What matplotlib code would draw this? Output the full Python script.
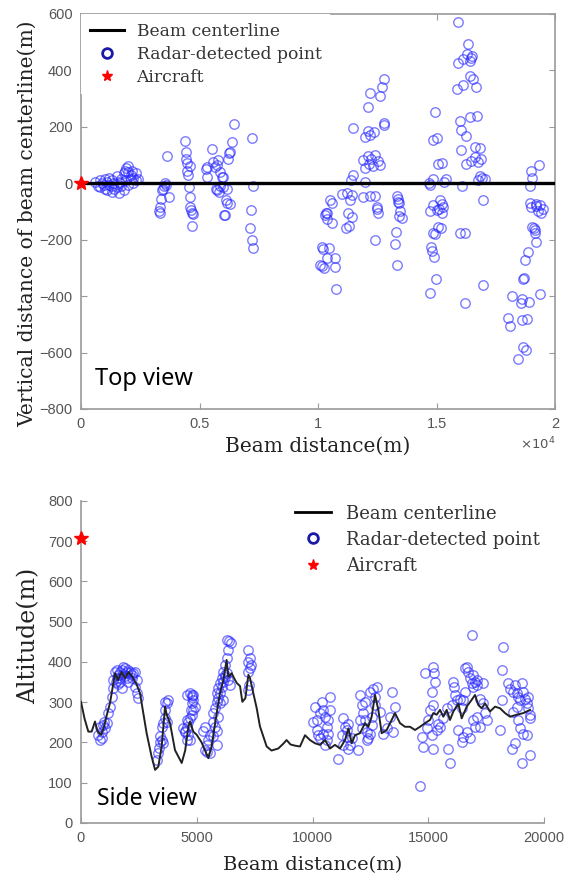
import matplotlib
matplotlib.use("Agg")
import matplotlib.pyplot as plt
from matplotlib.lines import Line2D

# ---------------- data ----------------
legend_labels = ["Beam centerline", "Radar-detected point", "Aircraft"]

# Top view
top_beam_x = [0, 20000]
top_beam_y = [0, 0]
top_aircraft_x = [0]
top_aircraft_y = [0]
top_pts_x = [
    600, 700, 800, 900, 1000, 1000, 1100, 1200, 1200, 1300, 1300, 1400, 1500, 1500, 1600, 1600,
    1700, 1700, 1800, 1800, 1900, 1900, 2000, 2000, 2100, 2100, 2200, 2200, 2300, 2300, 2400,
    1100, 1400, 800, 2000, 1850, 950, 1250, 1650, 2150,
    3620, 3550, 3500, 3450, 3600, 3380, 3700, 3330, 3300, 3320, 3430,
    4400, 4430, 4450, 4460, 4480, 4520, 4560, 4580, 4620, 4650, 4680, 4720, 4700, 4600,
    5274, 5330, 5513, 5580, 5654, 5724, 5795, 5865, 5935, 6006, 5696, 5752, 5865, 6006, 6146,
    6216, 6258, 6287, 6357, 6456, 6118, 6174, 6287, 6034, 6090, 5302, 5837,
    7200, 7243, 7158, 7130, 7200, 7270,
    10100, 10150, 10260, 10180, 10200, 10460, 10380, 10720, 10700, 10760, 10340, 10600, 10400,
    10506, 10570, 10366, 10296, 11280, 11350, 11420, 11000, 11210, 11490, 11380, 11465,
    11983, 11912, 12190, 12400, 12470, 12000, 12150, 12250, 12400, 12550, 12620, 12100, 12300,
    11900, 11990, 12100, 12200, 12370, 12120, 12194, 12620, 12680, 12790, 12770, 12790,
    13350, 13390, 13420, 12500, 12530, 12400, 13290, 13260, 13320, 13400, 13480, 13550, 13380,
    11180, 11300, 11450,
    14940, 14850, 15020, 15060, 15230, 14730, 14850, 15320, 15400, 14700, 16080, 15150, 15220,
    15280, 16950, 15920, 16340, 15920, 16100, 16300, 16450, 16480, 16400, 15880, 16100, 16420,
    16520, 16660, 16000, 16400, 16700, 16020, 16250, 16020, 16620, 16840, 16250, 16450, 16620,
    16750, 16880, 16750, 16850, 16900, 17050, 14850, 15000, 15100, 15250, 14730, 14860, 14940,
    14780, 14820, 14900, 15070, 15200, 14980, 14730, 15990, 16200, 16200, 16960,
    18950, 19050, 19340, 19000, 18950, 19200, 19370, 19000, 19200, 19300, 19400, 19500,
    19020, 19100, 19150, 19150, 19200, 18860, 18730, 18650, 18680, 18190, 18600, 18560, 18900,
    19370, 18020, 18100, 18600, 18800, 18650, 18770, 18440,
]
top_pts_y = [
    5, -10, 10, 0, -20, 15, 5, -5, 20, -30, 10, 0, 25, -15, 5, -35,
    15, -10, 35, -25, 10, 55, 40, -5, 30, 15, 20, 0, 35, 10, 15,
    -25, -20, -15, 60, 45, -5, -10, 0, 45,
    95, 0, -10, -20, -5, -55, -50, -85, -100, -105, -25,
    150, 110, 85, 72, 45, 30, -15, -50, -85, -95, -105, -110, -152, 60,
    52, 58, 123, 76, 58, 64, 81, 40, 22, 22, -19, -25, -8, -14, -19,
    87, 106, 112, 146, 209, -60, -70, -75, -113, -113, 22, -31,
    162, -11, -96, -158, -202, -228,
    -290, -295, -300, -225, -233, -228, -265, -265, -297, -376, -106, -142, -125,
    -60, -69, -107, -113, -107, -60, -42, -37, -34, 28, 10, 197,
    5, -48, -46, -46, -93, 53, 70, 85, 99, 80, 65, 95, 60,
    81, 163, 187, 170, 180, 270, 320, 311, 340, 368, 205, 212,
    -46, -67, -116, -85, -106, -202, -172, -216, -290, -70, -100, -124, -55,
    -160, -152, -120,
    252, 152, 159, 67, 71, -7, 14, 5, 14, 0, -11, -60, -72,
    -84, -58, 571, 494, 428, 440, 457, 445, 450, 435, 333, 350, 379,
    370, 340, 220, 235, 237, 188, 166, 117, 127, 124, 67, 80, 92,
    75, 85, 11, 25, 18, 15, -78, -95, -90, -106, -100, -177, -180,
    -226, -240, -262, -155, -160, -340, -388, -176, -176, -425, -361,
    -10, 20, 64, 45, -70, -75, -78, -85, -80, -100, -106, -90,
    -155, -160, -166, -177, -208, -243, -272, -340, -335, -400, -410, -425, -420,
    -393, -478, -506, -485, -481, -580, -590, -623,
]

# Side view
side_beam_x = [
    0, 150, 316, 460, 605, 720, 865, 1000, 1100, 1253, 1470, 1600, 1750, 1900, 2050, 2200,
    2400, 2550, 2700, 2835, 3050, 3200, 3340, 3485, 3630, 3700, 3845, 4060, 4350, 4500, 4640,
    4710, 4850, 5000, 5210, 5500, 5640, 5860, 6000, 6150, 6290, 6365, 6510, 6610, 6725, 6870,
    6970, 7100, 7230, 7300, 7445, 7590, 7730, 8020, 8230, 8520, 8740, 8880, 9050, 9250, 9460,
    9676, 9892, 10108, 10324, 10540, 10756, 10972, 11188, 11404, 11548, 11692, 11836, 12052,
    12268, 12412, 12556, 12700, 12844, 12988, 13204, 13420, 13564, 13780, 13996, 14212, 14428,
    14644, 14860, 15076, 15220, 15364, 15508, 15652, 15796, 15940, 16084, 16300, 16444, 16660,
    16876, 17020, 17164, 17308, 17452, 17668, 17884, 18100, 18316, 18532, 18820, 19108, 19396,
]
side_beam_y = [
    301, 260, 227, 227, 252, 227, 219, 240, 265, 298, 372, 355, 375, 360, 375, 365,
    345, 322, 270, 223, 165, 132, 140, 190, 289, 270, 248, 181, 149, 180, 240,
    252, 227, 219, 200, 161, 190, 272, 322, 355, 405, 363, 372, 360, 348, 340,
    301, 310, 368, 360, 322, 285, 240, 190, 180, 185, 197, 206, 195, 192, 190,
    218, 206, 198, 194, 206, 185, 194, 185, 206, 235, 198, 218, 223,
    248, 239, 264, 318, 281, 223, 231, 256, 273, 248, 239, 239, 231,
    239, 248, 256, 273, 269, 281, 264, 281, 256, 277, 297, 260, 289,
    306, 318, 293, 285, 297, 277, 289, 285, 273, 264, 269, 273, 281,
]
side_aircraft_x = [0]
side_aircraft_y = [708]
side_pts_x = [
    749, 821, 893, 964, 1036, 1108, 1180, 1253, 1325, 1397, 1397, 1469, 1541, 1613, 1685, 1757,
    1829, 1901, 1973, 2045, 2117, 2189, 2261, 2333, 2405, 2333, 2405, 2477, 1685, 1757, 1973,
    800, 900, 1000, 1500, 1600, 1700, 1900, 2050, 2200, 1800, 1550,
    3269, 3340, 3383, 3412, 3484, 3556, 3628, 3700, 3700, 3628, 3556, 3772, 3484, 3420, 3650,
    4492, 4564, 4636, 4708, 4780, 4852, 4708, 4564, 4780, 4852, 4780, 4924, 4636, 4420, 4492,
    4780, 4564, 4708, 4852, 4600, 4750,
    5284, 5356, 5356, 5428, 5500, 5572, 5716, 5788, 5860, 5860, 5716, 5788, 5860, 5932, 6004,
    6076, 6148, 6220, 6292, 6364, 6436, 6004, 6148, 5572, 5428, 5932, 5716,
    6292, 6407, 6465, 6364, 6292, 6220, 6148, 6220, 6004, 6076, 5932, 5860,
    7228, 7300, 7228, 7329, 7300, 7228, 7228, 7271,
    10108, 10036, 10180, 10252, 10396, 10468, 10540, 10612, 10684, 10756, 10324, 10468, 10612,
    10684, 10540, 10180, 10324, 10756,
    11116, 11260, 11332, 11404, 11476, 11548, 11620, 11692, 11332, 11548, 11476,
    12052, 11980, 12124, 12196, 12268, 12340, 12412, 12484, 12556, 12484, 12628, 12700, 12772,
    12700, 12268, 12124, 12340, 12052, 12556,
    12916, 13060, 13204, 13348, 13420, 13492, 13564,
    14716, 14788, 14860, 14932, 15004, 15076, 15148, 15191, 15220, 15249, 15292, 15220, 15148,
    15364, 15436, 15508, 15652, 15796, 15868, 15940, 16012, 16084, 16113, 16156, 16228, 16300,
    16372, 16444, 16516, 16588, 16660, 16732, 16804, 16876, 16948, 17020, 16876, 16516, 16660,
    16804, 16948, 17020, 17092, 16444, 14644, 16588, 16948, 17092,
    17236, 17380, 17452, 17524, 17236, 17092, 17380,
    18172, 18244, 18172, 18100, 18460, 18532, 18676, 18748, 18820, 18892, 18964, 19036, 19108,
    19180, 19252, 19324, 19396, 19252, 18964, 19108, 18892, 18676, 18604, 18748, 19036, 19396,
    18820, 19324, 19396,
]
side_pts_y = [
    218, 239, 226, 243, 235, 248, 272, 289, 314, 335, 355, 376, 380, 368, 376, 380,
    388, 384, 376, 380, 376, 368, 372, 376, 355, 338, 322, 310, 351, 335, 359,
    205, 210, 250, 350, 345, 360, 365, 350, 360, 370, 360,
    157, 173, 186, 202, 206, 198, 301, 297, 252, 260, 248, 306, 239, 215, 280,
    229, 239, 252, 260, 268, 281, 206, 206, 314, 318, 297, 289, 219, 235, 226,
    318, 318, 322, 306, 255, 280,
    229, 239, 181, 194, 206, 219, 215, 239, 194, 229, 272, 285, 301, 310, 322,
    339, 351, 363, 372, 355, 343, 297, 306, 173, 177, 264, 252,
    455, 451, 447, 430, 409, 392, 376, 368, 347, 359, 335, 322,
    430, 409, 401, 392, 384, 376, 331, 343,
    289, 252, 231, 218, 301, 280, 264, 239, 256, 314, 210, 222, 206,
    222, 194, 256, 272, 280,
    160, 218, 260, 239, 214, 247, 194, 210, 194, 185, 231,
    318, 181, 293, 272, 256, 227, 210, 222, 264, 326, 334, 314, 338,
    293, 301, 235, 206, 256, 243,
    276, 222, 235, 264, 326, 227, 289,
    214, 189, 372, 235, 256, 280, 326, 293, 388, 372, 351, 185, 218,
    231, 247, 239, 260, 285, 185, 148, 293, 351, 338, 318, 305, 231,
    309, 285, 305, 326, 388, 376, 359, 347, 338, 351, 467, 214, 227,
    210, 256, 239, 264, 202, 92, 384, 367, 355,
    309, 297, 272, 256, 239, 343, 347,
    380, 438, 305, 231, 347, 334, 326, 343, 322, 314, 305, 347, 326,
    309, 297, 285, 260, 218, 235, 222, 256, 276, 185, 198, 148, 169,
    289, 314, 268,
]

top_xticks = [0, 5000, 10000, 15000, 20000]
top_xtick_labels = ["0", "0.5", "1", "1.5", "2"]
top_yticks = [-800, -600, -400, -200, 0, 200, 400, 600]
side_xticks = [0, 5000, 10000, 15000, 20000]
side_yticks = [0, 100, 200, 300, 400, 500, 600, 700, 800]

# ---------------- style ----------------
SERIF = "DejaVu Serif"
TICK_FONT = "Liberation Sans"
TICK_COLOR = "#555555"
SPINE_COLOR = "#9a9a9a"
PT_COLOR = (0.15, 0.15, 1.0, 0.6)

fig = plt.figure(figsize=(5.70, 8.85), dpi=100)

ax1 = fig.add_axes([0.1421, 0.5379, 0.8316, 0.4463])
ax2 = fig.add_axes([0.1421, 0.0701, 0.8123, 0.3638])

# ---- top view ----
ax1.plot(top_pts_x, top_pts_y, linestyle="none", marker="o", ms=6.8, mfc="none",
         mec=PT_COLOR, mew=1.0, zorder=2)
ax1.plot(top_beam_x, top_beam_y, color="black", lw=2.4, zorder=3)
ax1.plot(top_aircraft_x, top_aircraft_y, linestyle="none", marker="*", ms=10,
         color="red", clip_on=False, zorder=6)
ax1.set_xlim(0, 20000)
ax1.set_ylim(-800, 600)
ax1.set_xticks(top_xticks)
ax1.set_xticklabels(top_xtick_labels)
ax1.set_yticks(top_yticks)
for s in ax1.spines.values():
    s.set_color(SPINE_COLOR)
    s.set_linewidth(1.2)
ax1.tick_params(direction="in", length=4, color=SPINE_COLOR, top=True, right=True,
                labelsize=10.5, labelcolor=TICK_COLOR, pad=6)
for lab in ax1.get_xticklabels() + ax1.get_yticklabels():
    lab.set_family(TICK_FONT)
ax1.text(1.0, -0.088, r"$\times10^4$", transform=ax1.transAxes, ha="right", va="center",
         fontsize=9.5, color=TICK_COLOR)
ax1.set_xlabel("Beam distance(m)", family=SERIF, fontsize=14.5, color="#222222", labelpad=4)
ax1.set_ylabel("Vertical distance of beam centerline(m)", family=SERIF, fontsize=14.6,
               color="#222222")
ax1.yaxis.set_label_coords(-0.094, 0.47)
ax1.text(0.03, 0.06, "Top view", transform=ax1.transAxes, family="Noto Sans",
         fontsize=17, color="black", ha="left", va="baseline")

h_line = Line2D([], [], color="black", lw=2.2)
h_pt = Line2D([], [], linestyle="none", marker="o", ms=7, mfc="none", mec="#1a1aa8", mew=2)
h_star = Line2D([], [], linestyle="none", marker="*", ms=8, color="red")
leg1 = ax1.legend([h_line, h_pt, h_star], legend_labels, loc="upper left",
                  bbox_to_anchor=(0, 1), borderaxespad=0, frameon=True, fancybox=False,
                  framealpha=1, facecolor="white", edgecolor="none",
                  prop={"family": SERIF, "size": 12.3}, labelspacing=0.36,
                  handlelength=2.0, handletextpad=0.75, borderpad=0.5)
for t in leg1.get_texts():
    t.set_color("#333333")

# ---- side view ----
ax2.plot(side_beam_x, side_beam_y, color="#222222", lw=1.4, zorder=3)
ax2.plot(side_pts_x, side_pts_y, linestyle="none", marker="o", ms=6.8, mfc="none",
         mec=PT_COLOR, mew=1.0, zorder=2)
ax2.plot(side_aircraft_x, side_aircraft_y, linestyle="none", marker="*", ms=10,
         color="red", clip_on=False, zorder=6)
ax2.set_xlim(0, 20000)
ax2.set_ylim(0, 800)
ax2.set_xticks(side_xticks)
ax2.set_yticks(side_yticks)
ax2.spines["top"].set_visible(False)
ax2.spines["right"].set_visible(False)
for s in ("left", "bottom"):
    ax2.spines[s].set_color(SPINE_COLOR)
    ax2.spines[s].set_linewidth(1.2)
ax2.tick_params(direction="in", length=4, color=SPINE_COLOR,
                labelsize=10.5, labelcolor=TICK_COLOR, pad=6)
for lab in ax2.get_xticklabels() + ax2.get_yticklabels():
    lab.set_family(TICK_FONT)
ax2.set_xlabel("Beam distance(m)", family=SERIF, fontsize=14, color="#222222", labelpad=8)
ax2.set_ylabel("Altitude(m)", family=SERIF, fontsize=17, color="#222222")
ax2.yaxis.set_label_coords(-0.088, 0.58)
ax2.text(0.035, 0.055, "Side view", transform=ax2.transAxes, family="Noto Sans",
         fontsize=16.5, color="black", ha="left", va="baseline")

h_line2 = Line2D([], [], color="black", lw=2.0)
leg2 = ax2.legend([h_line2, h_pt, h_star], legend_labels, loc="upper left",
                  bbox_to_anchor=(0.505, 0.438), bbox_transform=fig.transFigure,
                  borderaxespad=0, frameon=False, prop={"family": SERIF, "size": 13},
                  labelspacing=0.45, handlelength=2.0, handletextpad=0.8, borderpad=0.4)
for t in leg2.get_texts():
    t.set_color("#333333")

fig.savefig("out.png", dpi=100, facecolor="white")
